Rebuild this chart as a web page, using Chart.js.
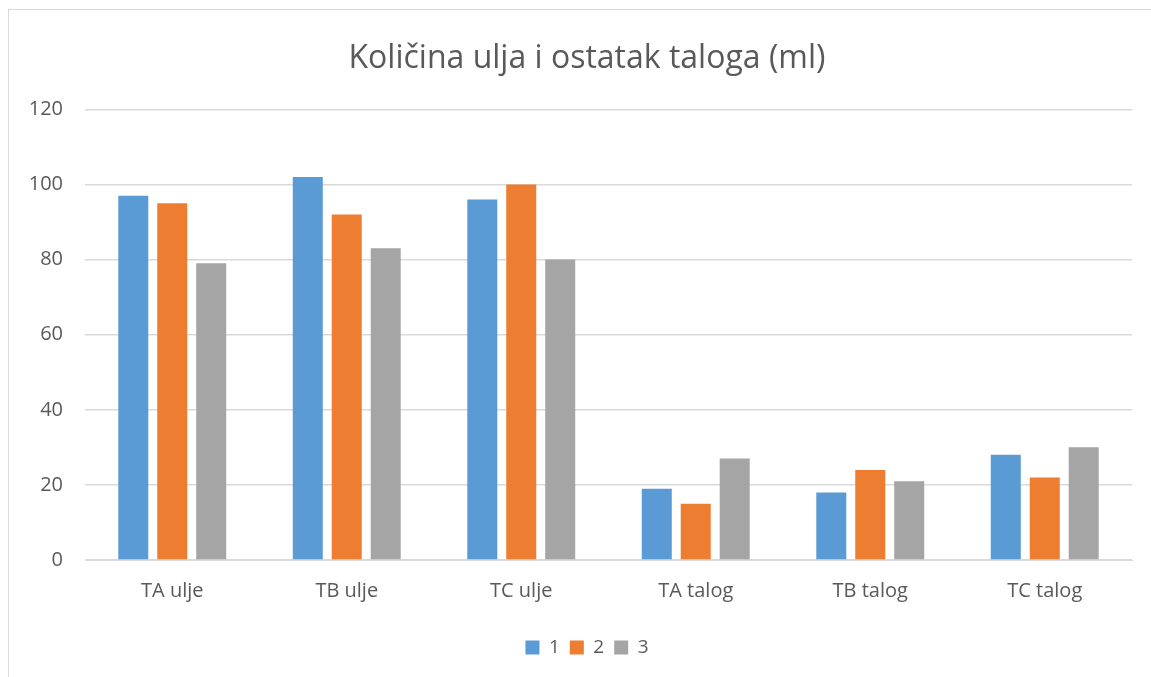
<!DOCTYPE html>
<html>
<head>
<meta charset="utf-8">
<script src="https://cdn.jsdelivr.net/npm/chart.js@4.4.1/dist/chart.umd.min.js"></script>
<style>
  html, body { margin: 0; padding: 0; background: #fff; }
  #wrap { position: relative; width: 1151px; height: 677px; overflow: hidden; }
  #frame {
    position: absolute; left: 8px; top: 9px; width: 1200px; height: 700px;
    border-left: 1px solid #d9d9d9; border-top: 1px solid #d9d9d9;
    pointer-events: none;
  }
  canvas { position: absolute; left: 0; top: 0; }
</style>
</head>
<body>
<div id="wrap">
  <canvas id="chart" width="1151" height="677"></canvas>
  <div id="frame"></div>
</div>
<script>
const categories = ["TA ulje", "TB ulje", "TC ulje", "TA talog", "TB talog", "TC talog"];
const series1 = [97, 102, 96, 19, 18, 28];
const series2 = [95, 92, 100, 15, 24, 22];
const series3 = [79, 83, 80, 27, 21, 30];
const seriesNames = ["1", "2", "3"];
const yTicks = [0, 20, 40, 60, 80, 100, 120];

const textColor = "#595959";
const gridColor = "#d9d9d9";
const font = "'Open Sans', sans-serif";

const makeSet = (label, data, color) => ({
  label,
  data,
  backgroundColor: color,
  borderWidth: 0,
  categoryPercentage: 0.67,
  barPercentage: 0.77,
});

new Chart(document.getElementById("chart"), {
  type: "bar",
  data: {
    labels: categories,
    datasets: [
      makeSet(seriesNames[0], series1, "#5b9bd5"),
      makeSet(seriesNames[1], series2, "#ed7d31"),
      makeSet(seriesNames[2], series3, "#a5a5a5"),
    ],
  },
  options: {
    responsive: false,
    animation: false,
    layout: { padding: { left: 23, right: 0, top: 0, bottom: 10 } },
    plugins: {
      title: {
        display: true,
        text: "Količina ulja i ostatak taloga (ml)",
        color: textColor,
        font: { family: font, size: 32, weight: "normal" },
        padding: { top: 40, bottom: 31 },
      },
      legend: {
        position: "bottom",
        labels: {
          color: textColor,
          font: { family: font, size: 19 },
          boxWidth: 14,
          boxHeight: 14,
          padding: 10,
        },
      },
      tooltip: { enabled: false },
    },
    scales: {
      x: {
        grid: { display: false },
        border: { color: gridColor },
        afterFit: (scale) => {
          scale.height += 14;
        },
        ticks: { color: textColor, font: { family: font, size: 20 }, padding: 11 },
      },
      y: {
        min: 0,
        max: 120,
        afterBuildTicks: (scale) => {
          scale.ticks = yTicks.map((v) => ({ value: v }));
        },
        afterFit: (scale) => {
          scale.width = 62;
        },
        grid: { color: gridColor, lineWidth: 1.5, drawTicks: false },
        border: { display: false },
        ticks: { color: textColor, font: { family: font, size: 20 }, padding: 22 },
      },
      // empty right-hand spacer so the title and legend sit centred like the original
      spacer: {
        type: "linear",
        position: "right",
        grid: { display: false },
        border: { display: false },
        ticks: { display: false },
        afterFit: (scale) => {
          scale.width = 19;
        },
      },
    },
  },
});
</script>
</body>
</html>
